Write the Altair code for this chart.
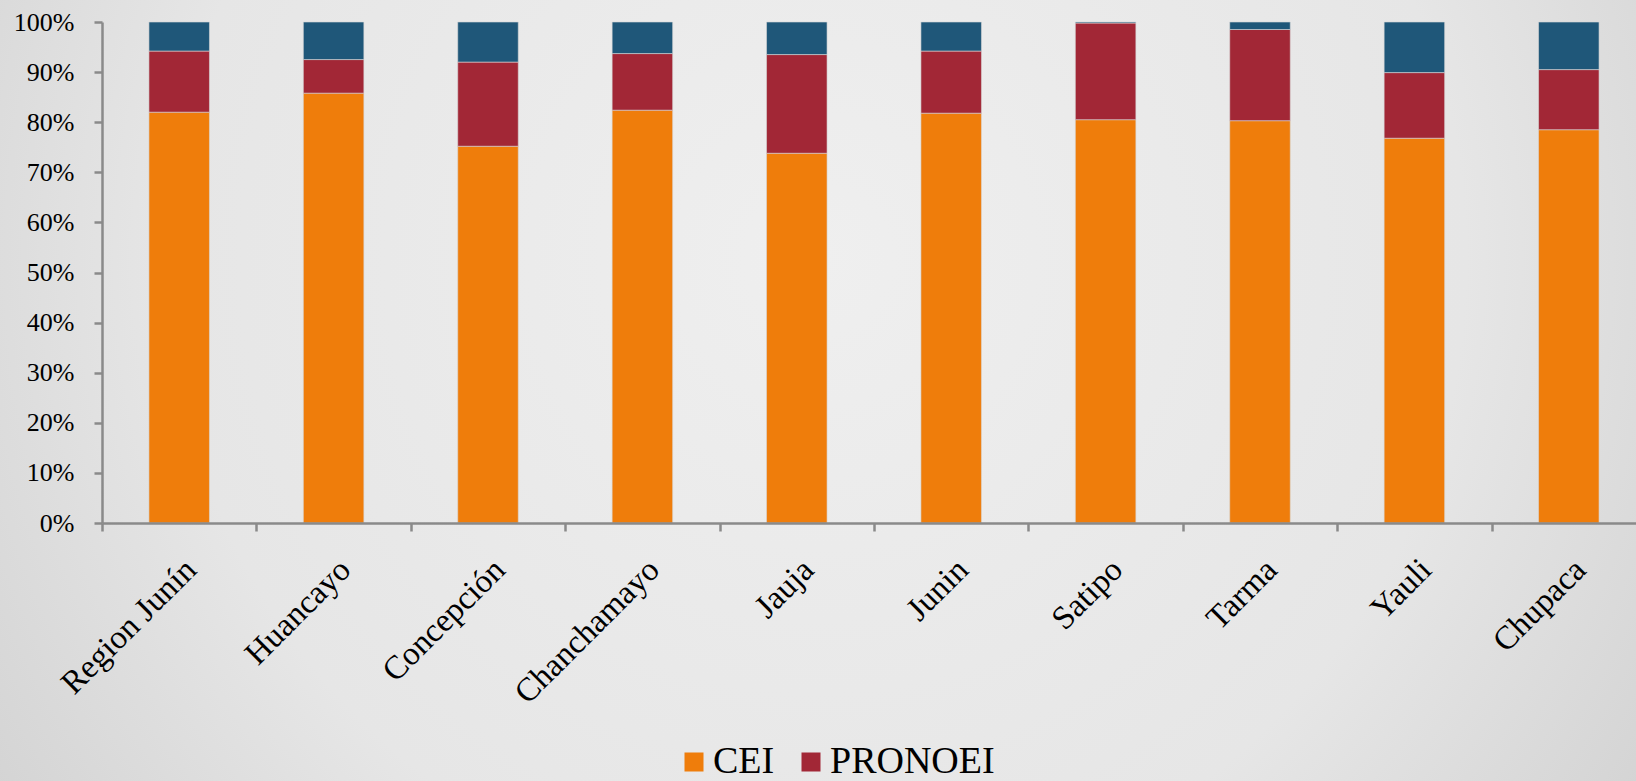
import altair as alt
import pandas as pd

categories = ["Region Junín", "Huancayo", "Concepción", "Chanchamayo", "Jauja",
              "Junin", "Satipo", "Tarma", "Yauli", "Chupaca"]
series = ["CEI", "PRONOEI", "Otros"]
cei = [82.0, 85.8, 75.2, 82.4, 73.8, 81.8, 80.5, 80.3, 76.8, 78.5]
pronoei = [12.2, 6.7, 16.8, 11.3, 19.7, 12.4, 19.3, 18.2, 13.1, 12.0]
otros = [5.8, 7.5, 8.0, 6.3, 6.5, 5.8, 0.2, 1.5, 10.1, 9.5]
colors = ["#EF7D0B", "#A22736", "#1F5779"]
y_ticks = [0, 0.1, 0.2, 0.3, 0.4, 0.5, 0.6, 0.7, 0.8, 0.9, 1.0]

rows = []
for i, c in enumerate(categories):
    for k, (s, vals) in enumerate(zip(series, [cei, pronoei, otros])):
        rows.append({"cat": c, "serie": s, "val": vals[i], "ord": k})
df = pd.DataFrame(rows)

FONT = "Liberation Serif"
AXIS_COLOR = "#8a8a8a"

bg = alt.Chart(alt.Data(values=[{"a": 1}])).mark_rect(
    fill=alt.RadialGradient(
        gradient="radial", x1=0.5, y1=0.42, x2=0.5, y2=0.42, r1=0, r2=0.72,
        stops=[alt.GradientStop(offset=0, color="#efefef"),
               alt.GradientStop(offset=0.55, color="#e6e6e6"),
               alt.GradientStop(offset=1, color="#c9c9c9")]),
    strokeWidth=0,
).encode(x=alt.value(-102), x2=alt.value(1534), y=alt.value(-22), y2=alt.value(759))

bars = alt.Chart(df).mark_bar(
    width=alt.RelativeBandSize(0.392), stroke="#d8d8d8", strokeWidth=0.6
).encode(
    x=alt.X("cat:N", sort=categories,
            scale=alt.Scale(paddingInner=0, paddingOuter=0, range=[0, 1544]),
            axis=alt.Axis(title=None, labelAngle=-45, labelFont=FONT, labelFontSize=33,
                          labelColor="black", labelPadding=22, tickBand="extent",
                          tickSize=8, tickWidth=2.5, tickColor=AXIS_COLOR,
                          domainColor=AXIS_COLOR, domainWidth=2.5, labelLimit=400,
                          zindex=2)),
    y=alt.Y("val:Q", stack="normalize",
            scale=alt.Scale(domain=[0, 1]),
            axis=alt.Axis(title=None, values=y_ticks, format=".0%", labelFont=FONT,
                          labelFontSize=26, labelColor="black", labelPadding=20,
                          tickSize=8, tickWidth=2.5, tickColor=AXIS_COLOR,
                          domainColor=AXIS_COLOR, domainWidth=2.5, grid=False,
                          zindex=2)),
    color=alt.Color("serie:N", sort=series,
                    scale=alt.Scale(domain=series, range=colors),
                    legend=alt.Legend(title=None, values=["CEI", "PRONOEI"], orient="none",
                                      direction="horizontal", legendX=573, legendY=721,
                                      symbolType="square", symbolSize=361,
                                      symbolStrokeWidth=0, labelFont=FONT,
                                      labelFontSize=38, labelColor="black",
                                      labelOffset=0, columnPadding=17, padding=0,
                                      labelLimit=400)),
    order=alt.Order("ord:Q", sort="ascending"),
)

chart = alt.layer(bg, bars).properties(
    width=1534, height=501,
    autosize=alt.AutoSizeParams(type="none"),
    padding={"left": 102, "top": 22, "right": 0, "bottom": 258},
    background="#e3e3e3",
).configure_view(strokeWidth=0)

chart.save("out.html", embed_options={"renderer": "svg", "actions": False})
